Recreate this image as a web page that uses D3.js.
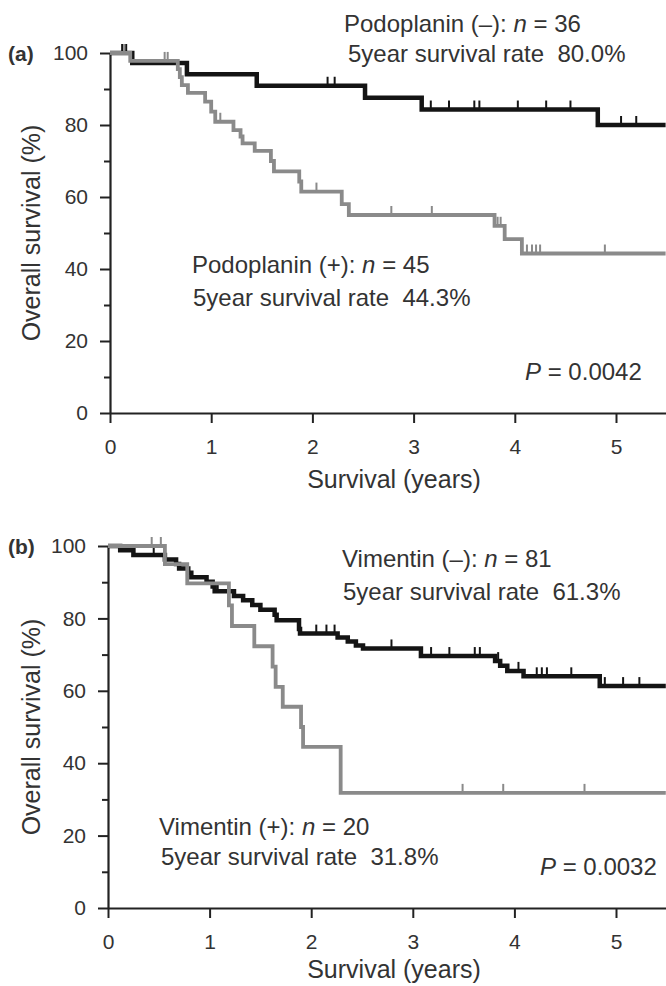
<!DOCTYPE html>
<html><head><meta charset="utf-8">
<script src="https://cdn.jsdelivr.net/npm/d3@7"></script>
<style>
html,body{margin:0;padding:0;background:#fff;}
text{font-family:"Liberation Sans",Arial,sans-serif;fill:#333;white-space:pre;}
</style></head>
<body><svg id="c" width="666" height="986"></svg>
<script>
// ---------- DATA ----------
const xTicks = [0,1,2,3,4,5];
const yMajorTicks = [0,20,40,60,80,100];
const yMinorTicks = [10,30,50,70,90];

// Panel (a) Podoplanin (-) : black
const aNegTimes = [0.22,0.76,1.45,2.52,3.08,4.82];
const aNegSurv  = [97.2,94.1,90.9,87.6,84.3,80.0];
const aNegCens  = [0.12,0.16,2.15,2.22,3.17,3.35,3.60,3.65,4.03,4.31,4.55,5.05,5.20];
// Panel (a) Podoplanin (+) : grey
const aPosTimes = [0.20,0.67,0.69,0.71,0.77,0.94,1.00,1.04,1.22,1.29,1.31,1.43,1.59,1.62,1.87,1.89,2.29,2.36,3.80,3.90,4.07];
const aPosSurv  = [97.8,95.5,93.3,91.1,88.9,86.5,83.7,80.9,78.6,76.8,74.9,72.8,70.0,67.1,64.3,61.5,58.0,55.0,52.0,48.3,44.3];
const aPosCens  = [0.14,0.54,0.57,1.09,2.04,2.78,3.18,3.83,3.86,4.12,4.17,4.21,4.25,4.89];

// Panel (b) Vimentin (-) : black
const bNegTimes = [0.12,0.25,0.56,0.67,0.70,0.79,0.82,0.97,1.03,1.05,1.24,1.33,1.42,1.50,1.64,1.66,1.88,1.89,2.26,2.36,2.44,2.51,3.08,3.81,3.86,3.93,4.09,4.84];
const bNegSurv  = [98.8,97.5,96.3,95.0,93.8,92.6,91.4,90.1,88.8,87.5,86.2,85.0,83.7,82.4,81.0,79.5,77.1,75.8,74.7,73.6,72.5,71.7,69.6,68.2,66.9,65.5,64.0,61.3];
const bNegCens  = [0.45,1.08,2.05,2.15,2.23,2.79,3.18,3.36,3.61,3.66,3.84,4.04,4.22,4.27,4.32,4.56,4.89,5.07,5.23];
// Panel (b) Vimentin (+) : grey
const bPosTimes = [0.56,0.78,1.19,1.22,1.44,1.62,1.65,1.72,1.90,1.92,2.29];
const bPosSurv  = [95.0,89.7,83.6,77.9,72.3,66.7,61.1,55.6,50.0,44.5,31.8];
const bPosCens  = [0.43,0.52,3.49,3.89,4.69];

const xMax = 5.49;

// ---------- DRAW ----------
const svg = d3.select("#c");
const FONT_TICK = 21, FONT_ANN = 24, FONT_TITLE = 25;
const BLACK = "#141414", GREY = "#8a8a8a";

function stepData(times, surv){
  const pts = [[0,100]];
  times.forEach((t,i)=>pts.push([t,surv[i]]));
  pts.push([xMax, surv[surv.length-1]]);
  return pts;
}
function survAt(times, surv, t){
  let s = 100;
  for(let i=0;i<times.length;i++){ if(times[i] <= t) s = surv[i]; }
  return s;
}

function panel(cfg){
  const g = svg.append("g");
  const x = d3.scaleLinear().domain([0,xMax]).range([cfg.x0, cfg.x0 + xMax*cfg.pxYear]);
  const y = d3.scaleLinear().domain([0,100]).range([cfg.yBot, cfg.yTop]);

  g.append("g").attr("transform",`translate(${cfg.x0},0)`)
    .call(d3.axisLeft(y).tickValues(yMinorTicks).tickSize(6).tickSizeOuter(0).tickFormat(""))
    .call(s=>s.select(".domain").remove())
    .call(s=>s.selectAll("line").attr("stroke","#222").attr("stroke-width",2));
  g.append("g").attr("transform",`translate(${cfg.x0},0)`)
    .call(d3.axisLeft(y).tickValues(yMajorTicks).tickSize(10).tickSizeOuter(0).tickPadding(12))
    .call(s=>s.select(".domain").attr("stroke","#222").attr("stroke-width",2.2))
    .call(s=>s.selectAll("line").attr("stroke","#222").attr("stroke-width",2))
    .call(s=>s.selectAll("text").attr("font-size",FONT_TICK).attr("fill","#3a3a3a")
      .attr("font-family","Liberation Sans, Arial, sans-serif"));
  g.append("g").attr("transform",`translate(0,${cfg.yBot})`)
    .call(d3.axisBottom(x).tickValues(xTicks).tickSize(10).tickSizeOuter(0).tickPadding(16).tickFormat(d3.format("d")))
    .call(s=>s.select(".domain").attr("stroke","#222").attr("stroke-width",2.2))
    .call(s=>s.selectAll("line").attr("stroke","#222").attr("stroke-width",2))
    .call(s=>s.selectAll("text").attr("font-size",FONT_TICK).attr("fill","#3a3a3a")
      .attr("font-family","Liberation Sans, Arial, sans-serif"));

  const line = d3.line().x(d=>x(d[0])).y(d=>y(d[1])).curve(d3.curveStepAfter);
  cfg.curves.forEach(c=>{
    g.append("path").datum(stepData(c.times,c.surv))
      .attr("d",line).attr("fill","none").attr("stroke",c.color)
      .attr("stroke-width",c.width).attr("stroke-linejoin","miter").attr("stroke-linecap","butt");
    g.selectAll(null).data(c.cens).join("line")
      .attr("x1",d=>x(d)).attr("x2",d=>x(d))
      .attr("y1",d=>y(survAt(c.times,c.surv,d)))
      .attr("y2",d=>y(survAt(c.times,c.surv,d))-9)
      .attr("stroke",c.color).attr("stroke-width",2);
  });

  g.append("text").attr("x",8).attr("y",cfg.yTop+8).attr("font-size",21).attr("font-weight","bold")
    .attr("fill","#111").text(cfg.label);
  g.append("text").attr("transform",`translate(31,${(cfg.yTop+cfg.yBot)/2}) rotate(-90)`)
    .attr("text-anchor","middle").attr("dominant-baseline","central")
    .attr("font-size",FONT_TITLE).text("Overall survival (%)");
  g.append("text").attr("x",394).attr("y",cfg.yBot+cfg.titleDy).attr("text-anchor","middle")
    .attr("font-size",FONT_TITLE).text("Survival (years)");

  cfg.notes.forEach(n=>{
    const t = g.append("text").attr("x",n.x).attr("y",n.y).attr("font-size",FONT_ANN);
    n.parts.forEach(p=>{
      t.append("tspan").attr("font-style",p[1]?"italic":"normal").text(p[0]);
    });
  });
}

panel({
  label:"(a)", x0:110, pxYear:101.2, yTop:53, yBot:413, titleDy:75,
  curves:[
    {times:aNegTimes, surv:aNegSurv, cens:aNegCens, color:BLACK, width:4.5},
    {times:aPosTimes, surv:aPosSurv, cens:aPosCens, color:GREY, width:3.8}
  ],
  notes:[
    {x:344,y:32,parts:[["Podoplanin (–): "],["n",1],[" = 36"]]},
    {x:348,y:62,parts:[["5year survival rate  80.0%"]]},
    {x:192,y:273,parts:[["Podoplanin (+): "],["n",1],[" = 45"]]},
    {x:193,y:306,parts:[["5year survival rate  44.3%"]]},
    {x:525,y:380,parts:[["P",1],[" = 0.0042"]]}
  ]
});
panel({
  label:"(b)", x0:108, pxYear:101.6, yTop:546, yBot:908, titleDy:70,
  curves:[
    {times:bNegTimes, surv:bNegSurv, cens:bNegCens, color:BLACK, width:4.5},
    {times:bPosTimes, surv:bPosSurv, cens:bPosCens, color:GREY, width:3.8}
  ],
  notes:[
    {x:342,y:567,parts:[["Vimentin (–): "],["n",1],[" = 81"]]},
    {x:343,y:600,parts:[["5year survival rate  61.3%"]]},
    {x:159,y:835,parts:[["Vimentin (+): "],["n",1],[" = 20"]]},
    {x:161,y:865,parts:[["5year survival rate  31.8%"]]},
    {x:540,y:875,parts:[["P",1],[" = 0.0032"]]}
  ]
});
</script></body></html>
